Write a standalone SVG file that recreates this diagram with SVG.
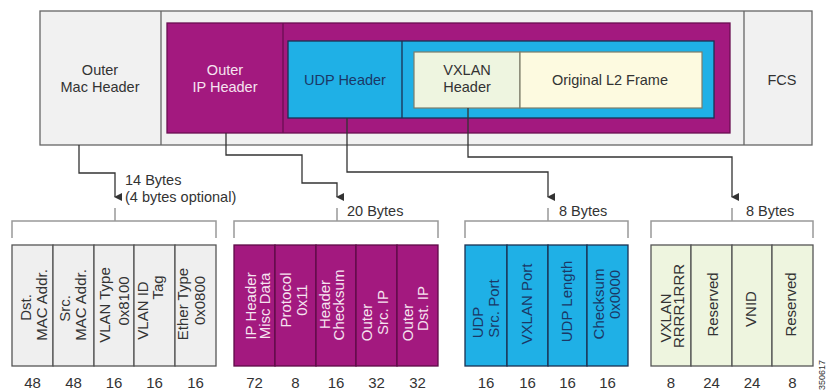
<svg xmlns="http://www.w3.org/2000/svg" width="827" height="392" viewBox="0 0 827 392">
<defs>
<marker id="ah" markerWidth="8" markerHeight="8" refX="4" refY="7" orient="auto-start-reverse" markerUnits="userSpaceOnUse" viewBox="0 0 8 8">
<path d="M0,0 L8,0 L4,8 Z" fill="#333"/>
</marker>
</defs>
<style>
text{font-family:"Liberation Sans",Arial,sans-serif;font-size:14.5px;}
.t{text-anchor:middle;fill:#333;}
.r{font-size:15px;}
.num{font-size:15px;}
.w{fill:#f6e4f0;}
.n{fill:#1b3866;}
.conn{fill:none;stroke:#333;stroke-width:1.3;}
.br{fill:none;stroke:#999;stroke-width:1.5;}
.mac{fill:#efefef;stroke:#555;stroke-width:1.3;}
.ip{fill:#a3197f;stroke:#5e0c47;stroke-width:1.3;}
.udp{fill:#1fb0e6;stroke:#1b3152;stroke-width:1.3;}
.vx{fill:#eef5df;stroke:#555;stroke-width:1.3;}
.lbl{fill:#333;}
</style>
<rect width="827" height="392" fill="#fff"/>

<g id="frame">
<rect x="40" y="11" width="772" height="134" fill="#f1f1f1" stroke="#666" stroke-width="1.3"/>
</g>
<g id="outer-mac">
<line x1="161" y1="11" x2="161" y2="145" stroke="#666" stroke-width="1.3"/>
<text class="t" x="100" y="75">Outer</text>
<text class="t" x="100" y="92">Mac Header</text>
</g>
<g id="fcs">
<line x1="744" y1="11" x2="744" y2="145" stroke="#666" stroke-width="1.3"/>
<text class="t" x="782" y="85">FCS</text>
</g>
<g id="outer-ip">
<rect x="167" y="23" width="563" height="110" fill="#a3197f" stroke="#6a0f52" stroke-width="1.3"/>
<line x1="283" y1="23" x2="283" y2="133" stroke="#6a0f52" stroke-width="1.3"/>
<text class="t w" x="225" y="75">Outer</text>
<text class="t w" x="225" y="92">IP Header</text>
</g>
<g id="udp-header">
<rect x="288" y="41" width="426" height="77" fill="#1fb0e6" stroke="#1b3152" stroke-width="1.3"/>
<line x1="402" y1="41" x2="402" y2="118" stroke="#1b3152" stroke-width="1.3"/>
<text class="t n" x="345" y="85">UDP Header</text>
</g>
<g id="vxlan-header">
<rect x="414" y="52" width="106" height="56" fill="#eef5e0" stroke="#7d7d6a" stroke-width="1.2"/>
<text class="t" x="467" y="75">VXLAN</text>
<text class="t" x="467" y="92">Header</text>
</g>
<g id="original-l2">
<rect x="520" y="52" width="182" height="56" fill="#fdfae0" stroke="#7d7d6a" stroke-width="1.2"/>
<text class="t" x="610" y="85">Original L2 Frame</text>
</g>

<g id="connectors">
<polyline class="conn" points="79,145 79,173 115,173 115,197" marker-end="url(#ah)"/>
<polyline class="conn" points="226,133 226,155 302,155 302,183 337,183 337,197" marker-end="url(#ah)"/>
<polyline class="conn" points="347,118 347,172 548,172 548,197" marker-end="url(#ah)"/>
<polyline class="conn" points="468,108 468,157 732,157 732,197" marker-end="url(#ah)"/>
</g>

<g id="brackets">
<line class="br" x1="115" y1="208" x2="115" y2="221"/>
<polyline class="br" points="12,238 12,221 216,221 216,238"/>
<line class="br" x1="337" y1="208" x2="337" y2="221"/>
<polyline class="br" points="234,238 234,221 438,221 438,238"/>
<line class="br" x1="548" y1="208" x2="548" y2="221"/>
<polyline class="br" points="465,238 465,221 628,221 628,238"/>
<line class="br" x1="732" y1="208" x2="732" y2="221"/>
<polyline class="br" points="651,238 651,221 813,221 813,238"/>
<text class="lbl" x="125" y="185">14 Bytes</text>
<text class="lbl" x="125" y="202">(4 bytes optional)</text>
<text class="lbl" x="347" y="216">20 Bytes</text>
<text class="lbl" x="559" y="216">8 Bytes</text>
<text class="lbl" x="746" y="216">8 Bytes</text>
</g>

<g id="mac-fields">
<rect class="mac" x="12" y="245" width="41" height="121"/>
<rect class="mac" x="53" y="245" width="41" height="121"/>
<rect class="mac" x="94" y="245" width="40" height="121"/>
<rect class="mac" x="134" y="245" width="41" height="121"/>
<rect class="mac" x="175" y="245" width="41" height="121"/>
<text class="t r" transform="translate(30.5,307.5) rotate(-90)">Dst.</text>
<text class="t r" transform="translate(47,305) rotate(-90)">MAC Addr.</text>
<text class="t r" transform="translate(70,308.5) rotate(-90)">Src.</text>
<text class="t r" transform="translate(86,305) rotate(-90)">MAC Addr.</text>
<text class="t r" transform="translate(110,305) rotate(-90)">VLAN Type</text>
<text class="t r" transform="translate(129,301) rotate(-90)">0x8100</text>
<text class="t r" transform="translate(148,310.5) rotate(-90)">VLAN ID</text>
<text class="t r" transform="translate(163,287.5) rotate(-90)">Tag</text>
<text class="t r" transform="translate(188,304) rotate(-90)">Ether Type</text>
<text class="t r" transform="translate(205,300.5) rotate(-90)">0x0800</text>
</g>

<g id="ip-fields">
<rect class="ip" x="234" y="245" width="41" height="121"/>
<rect class="ip" x="275" y="245" width="41" height="121"/>
<rect class="ip" x="316" y="245" width="40" height="121"/>
<rect class="ip" x="356" y="245" width="41" height="121"/>
<rect class="ip" x="397" y="245" width="41" height="121"/>
<text class="t r w" transform="translate(256,306) rotate(-90)">IP Header</text>
<text class="t r w" transform="translate(270,306) rotate(-90)">Misc Data</text>
<text class="t r w" transform="translate(291,300) rotate(-90)">Protocol</text>
<text class="t r w" transform="translate(307,300) rotate(-90)">0x11</text>
<text class="t r w" transform="translate(330,304.5) rotate(-90)">Header</text>
<text class="t r w" transform="translate(344,305) rotate(-90)">Checksum</text>
<text class="t r w" transform="translate(372,322.5) rotate(-90)">Outer</text>
<text class="t r w" transform="translate(387.5,312.5) rotate(-90)">Src. IP</text>
<text class="t r w" transform="translate(413,322.5) rotate(-90)">Outer</text>
<text class="t r w" transform="translate(427.5,308.5) rotate(-90)">Dst. IP</text>
</g>

<g id="udp-fields">
<rect class="udp" x="465" y="245" width="42" height="121"/>
<rect class="udp" x="507" y="245" width="41" height="121"/>
<rect class="udp" x="548" y="245" width="39" height="121"/>
<rect class="udp" x="587" y="245" width="41" height="121"/>
<text class="t r n" transform="translate(483,322.5) rotate(-90)">UDP</text>
<text class="t r n" transform="translate(498.5,308.5) rotate(-90)">Src. Port</text>
<text class="t r n" transform="translate(532,304) rotate(-90)">VXLAN Port</text>
<text class="t r n" transform="translate(572,301.5) rotate(-90)">UDP Length</text>
<text class="t r n" transform="translate(603.5,304) rotate(-90)">Checksum</text>
<text class="t r n" transform="translate(620,294.5) rotate(-90)">0x0000</text>
</g>

<g id="vxlan-fields">
<rect class="vx" x="651" y="245" width="40" height="121"/>
<rect class="vx" x="691" y="245" width="41" height="121"/>
<rect class="vx" x="732" y="245" width="40" height="121"/>
<rect class="vx" x="772" y="245" width="41" height="121"/>
<text class="t r" transform="translate(670.5,318) rotate(-90)">VXLAN</text>
<text class="t r" transform="translate(683.5,306) rotate(-90)">RRRR1RRR</text>
<text class="t r" transform="translate(717.5,304.5) rotate(-90)">Reserved</text>
<text class="t r" transform="translate(755.5,309) rotate(-90)">VNID</text>
<text class="t r" transform="translate(795.5,304.5) rotate(-90)">Reserved</text>
</g>

<g id="bit-sizes">
<text class="t num" x="32.5" y="388">48</text>
<text class="t num" x="73.5" y="388">48</text>
<text class="t num" x="114" y="388">16</text>
<text class="t num" x="154.5" y="388">16</text>
<text class="t num" x="195.5" y="388">16</text>
<text class="t num" x="254.5" y="388">72</text>
<text class="t num" x="295.5" y="388">8</text>
<text class="t num" x="336" y="388">16</text>
<text class="t num" x="376.5" y="388">32</text>
<text class="t num" x="417.5" y="388">32</text>
<text class="t num" x="486" y="388">16</text>
<text class="t num" x="527.5" y="388">16</text>
<text class="t num" x="567.5" y="388">16</text>
<text class="t num" x="607.5" y="388">16</text>
<text class="t num" x="671" y="388">8</text>
<text class="t num" x="711.5" y="388">24</text>
<text class="t num" x="752" y="388">24</text>
<text class="t num" x="792.5" y="388">8</text>
<text style="font-size:9px;fill:#333" transform="translate(825,390) rotate(-90)">350617</text>
</g>
</svg>
